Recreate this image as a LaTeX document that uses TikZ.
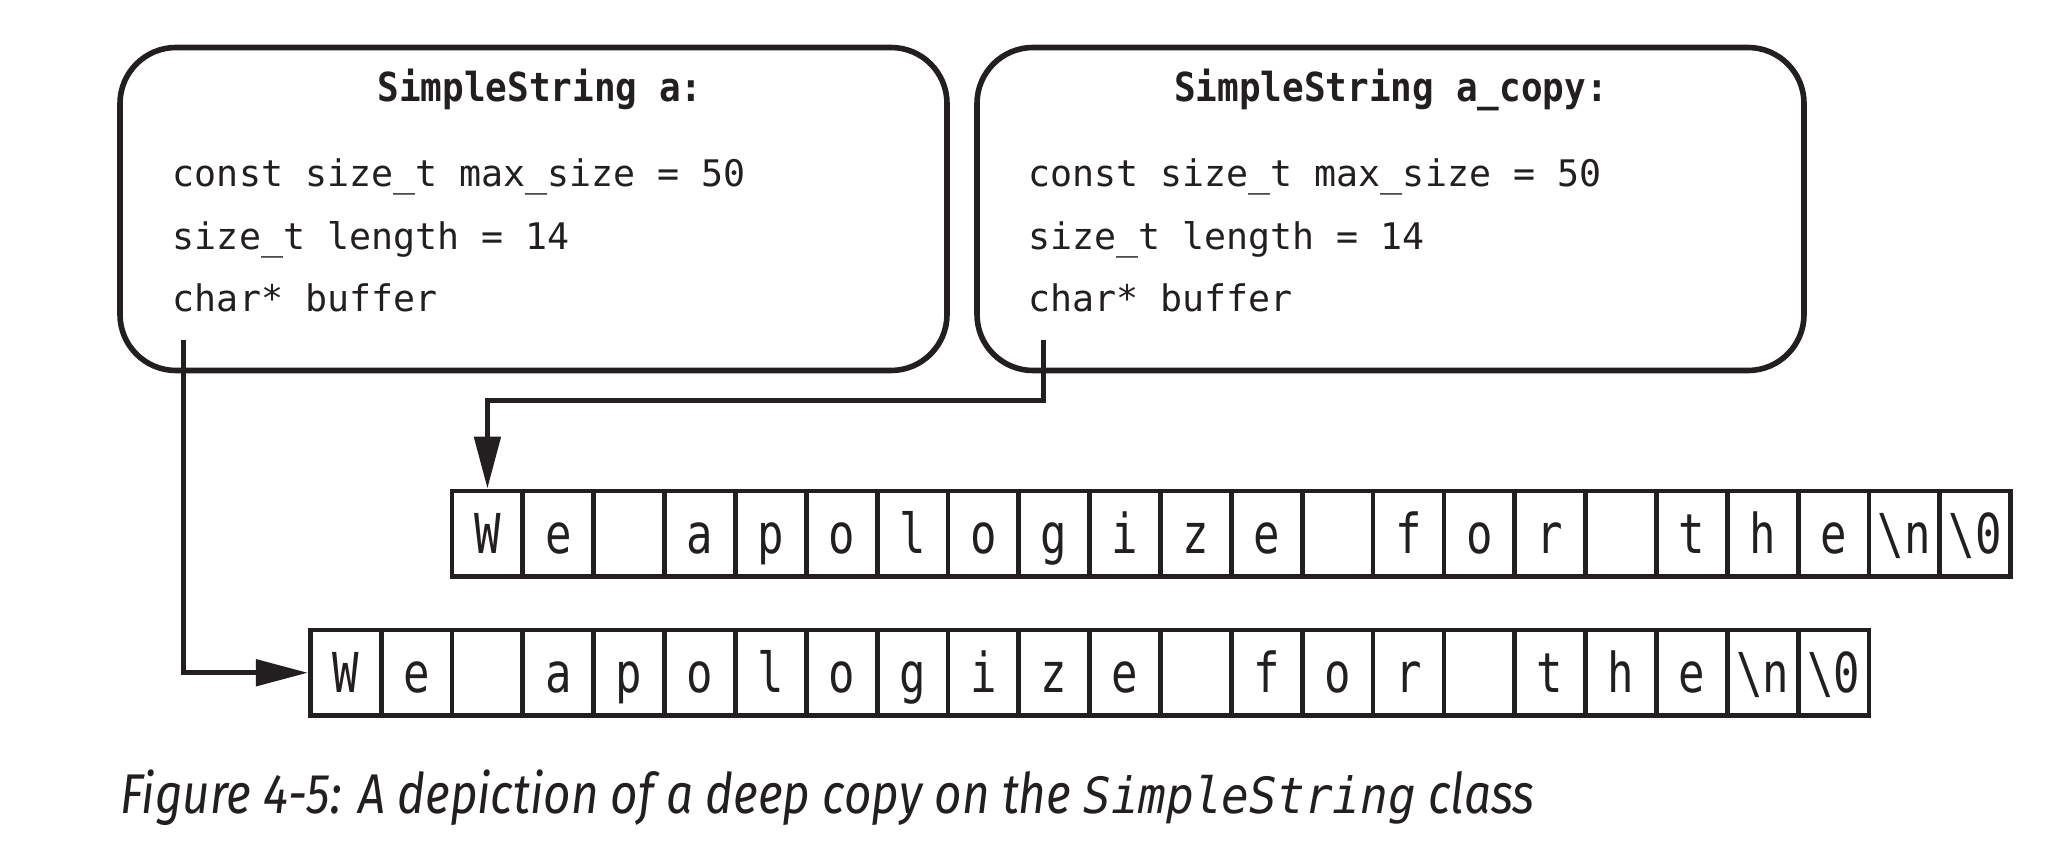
\documentclass[tikz,border=0pt]{standalone}
\usepackage{fontspec}
\usetikzlibrary{arrows.meta}
\newfontfamily\bodymono{DejaVu Sans Mono}
\newfontfamily\titlemono[FakeStretch=0.9]{DejaVu Sans Mono}
\newfontfamily\cellmono[FakeStretch=0.8]{DejaVu Sans Mono}
\newfontfamily\capfont[FakeStretch=0.85]{Fira Sans}
\newfontfamily\capmono[FakeStretch=0.92]{DejaVu Sans Mono}
\definecolor{ink}{HTML}{231F20}
\begin{document}
\begin{tikzpicture}[x=0.5pt,y=-0.5pt,
  objbox/.style={draw=ink, line width=2.8pt, rounded corners=28pt, minimum width=413.5pt, minimum height=161.5pt, inner sep=0pt},
  titletext/.style={anchor=base, inner sep=0pt, text=ink, font=\titlemono\bfseries\fontsize{20pt}{24pt}\selectfont},
  fieldtext/.style={anchor=base west, inner sep=0pt, text=ink, font=\bodymono\fontsize{18.3pt}{22pt}\selectfont},
  cellbox/.style={draw=ink, line width=2.4pt, minimum width=35.425pt, minimum height=42.75pt, inner sep=0pt, text height=22pt, text depth=2.75pt, text=ink, font=\cellmono\fontsize{27.5pt}{30pt}\selectfont},
  ptr/.style={draw=ink, line width=2.5pt, -{Triangle[length=26pt,width=13pt]}},
  captext/.style={anchor=base west, inner sep=0pt, text=ink, font=\capfont\itshape\fontsize{28pt}{32pt}\selectfont}
]
\fill[white] (0,0) rectangle (2049,865);
\useasboundingbox (0,0) rectangle (2049,865);

% object boxes
\node[objbox] (boxA) at (533.5,209) {};
\node[objbox] (boxB) at (1390.5,209) {};

\node[titletext] (titleA) at (540,102) {SimpleString a:};
\node[titletext] (titleB) at (1391,102) {SimpleString a\_copy:};

\node[fieldtext] (fA1) at (172.5,187) {const size\_t max\_size = 50};
\node[fieldtext] (fA2) at (172.5,250) {size\_t length = 14};
\node[fieldtext] (fA3) at (172.5,312) {char* buffer};
\node[fieldtext] (fB1) at (1028,187) {const size\_t max\_size = 50};
\node[fieldtext] (fB2) at (1028,250) {size\_t length = 14};
\node[fieldtext] (fB3) at (1028,312) {char* buffer};

% character arrays
\foreach \c [count=\i from 0] in {W,e,{},a,p,o,l,o,g,i,z,e,{},f,o,r,{},t,h,e,{\textbackslash n},{\textbackslash 0}} {
  \node[cellbox] (u\i) at ({452+70.85*\i+35.425},533.75) {\c};
  \node[cellbox] (l\i) at ({310.3+70.85*\i+35.425},672.75) {\c};
}

% pointers
\coordinate (pA) at (183,340);
\coordinate (pB) at (1043,340);
\draw[ptr] (pA) |- (l0.west);
\draw[ptr] (pB) -- ++(0,61) -| (u0.north);

% caption
\node[captext] (cap) at (120,813) {Figure 4-5: A depiction of a deep copy on the {\capmono\itshape\fontsize{25pt}{30pt}\selectfont SimpleString} class};
\end{tikzpicture}
\end{document}
